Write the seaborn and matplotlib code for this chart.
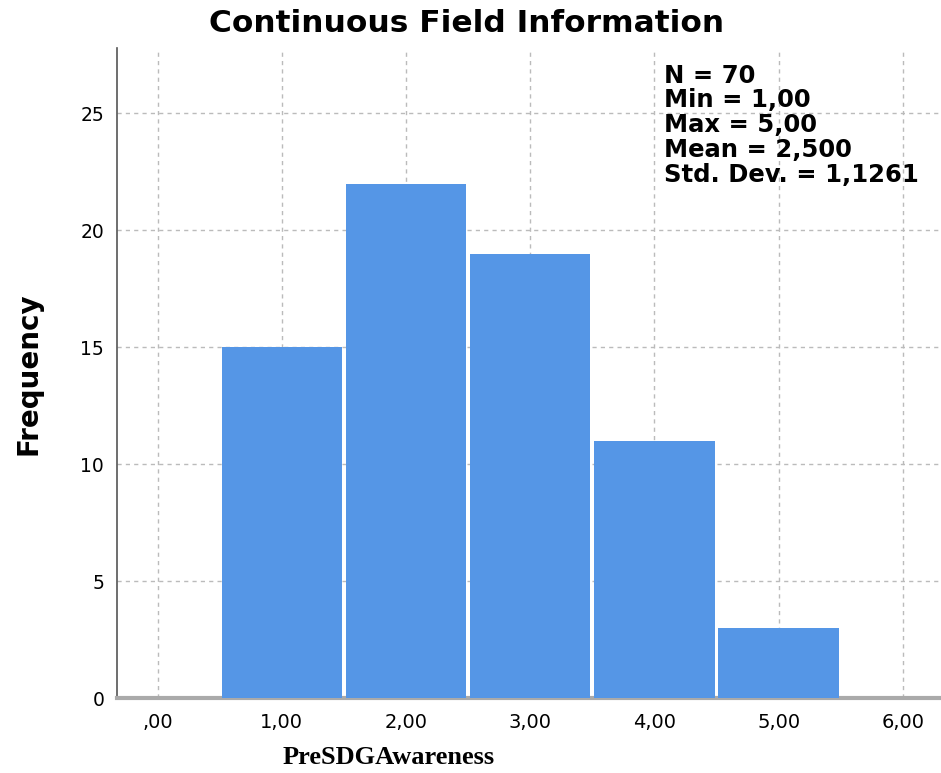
import numpy as np
import pandas as pd
import matplotlib
matplotlib.use("Agg")
import matplotlib.pyplot as plt
import seaborn as sns

# data
scores = [1, 2, 3, 4, 5]
counts = [15, 22, 19, 11, 3]
tick_values = [0, 1, 2, 3, 4, 5, 6]
tick_labels = [",00", "1,00", "2,00", "3,00", "4,00", "5,00", "6,00"]
stats_lines = ["N = 70", "Min = 1,00", "Max = 5,00", "Mean = 2,500", "Std. Dev. = 1,1261"]

df = pd.DataFrame({"PreSDGAwareness": scores, "n": counts})

sns.set_theme(style="white")
plt.rcParams["font.family"] = ["DejaVu Sans"]
plt.rcParams["text.color"] = "black"
plt.rcParams["xtick.color"] = "black"
plt.rcParams["ytick.color"] = "black"

fig = plt.figure(figsize=(9.41, 7.73), dpi=100)
ax = fig.add_axes([0.124, 0.097, 0.875, 0.841])

sns.histplot(data=df, x="PreSDGAwareness", weights="n", discrete=True, shrink=0.97,
             color="#5596E6", alpha=1, edgecolor="none", linewidth=0, ax=ax, zorder=3)

ax.set_xlim(-0.33, 6.3)
ax.set_ylim(0, 27.8)
ax.set_xticks(tick_values)
ax.set_xticklabels(tick_labels)
ax.set_yticks([0, 5, 10, 15, 20, 25])
ax.tick_params(axis="x", labelsize=14, length=0, pad=11, labelcolor="black")
ax.tick_params(axis="y", labelsize=13.5, length=0, pad=9, labelcolor="black")

ax.grid(True, color="#bbbbbb", linestyle=(0, (3, 3)), linewidth=1, zorder=0)
for s in ["top", "right"]:
    ax.spines[s].set_visible(False)
ax.spines["left"].set_color("#555555")
ax.spines["left"].set_linewidth(1.2)
ax.spines["bottom"].set_color("#aaaaaa")
ax.spines["bottom"].set_linewidth(3)

ax.set_ylabel("")
ax.set_xlabel("")
fig.text(29 / 941, 1 - 374 / 773, "Frequency", fontsize=20, fontweight="bold",
         rotation=90, ha="center", va="center")
fig.text(0.413, 1 - 757 / 773, "PreSDGAwareness", fontsize=19, fontweight="bold",
         family="Liberation Serif", ha="center", va="center")
fig.text(0.496, 0.97, "Continuous Field Information", fontsize=22.5, fontweight="bold",
         ha="center", va="center")

ax.text(0.665, 0.976, "\n".join(stats_lines), transform=ax.transAxes,
        fontsize=17.5, fontweight="bold", va="top", ha="left", linespacing=1.04, zorder=5)

fig.savefig("out.png", dpi=100)
